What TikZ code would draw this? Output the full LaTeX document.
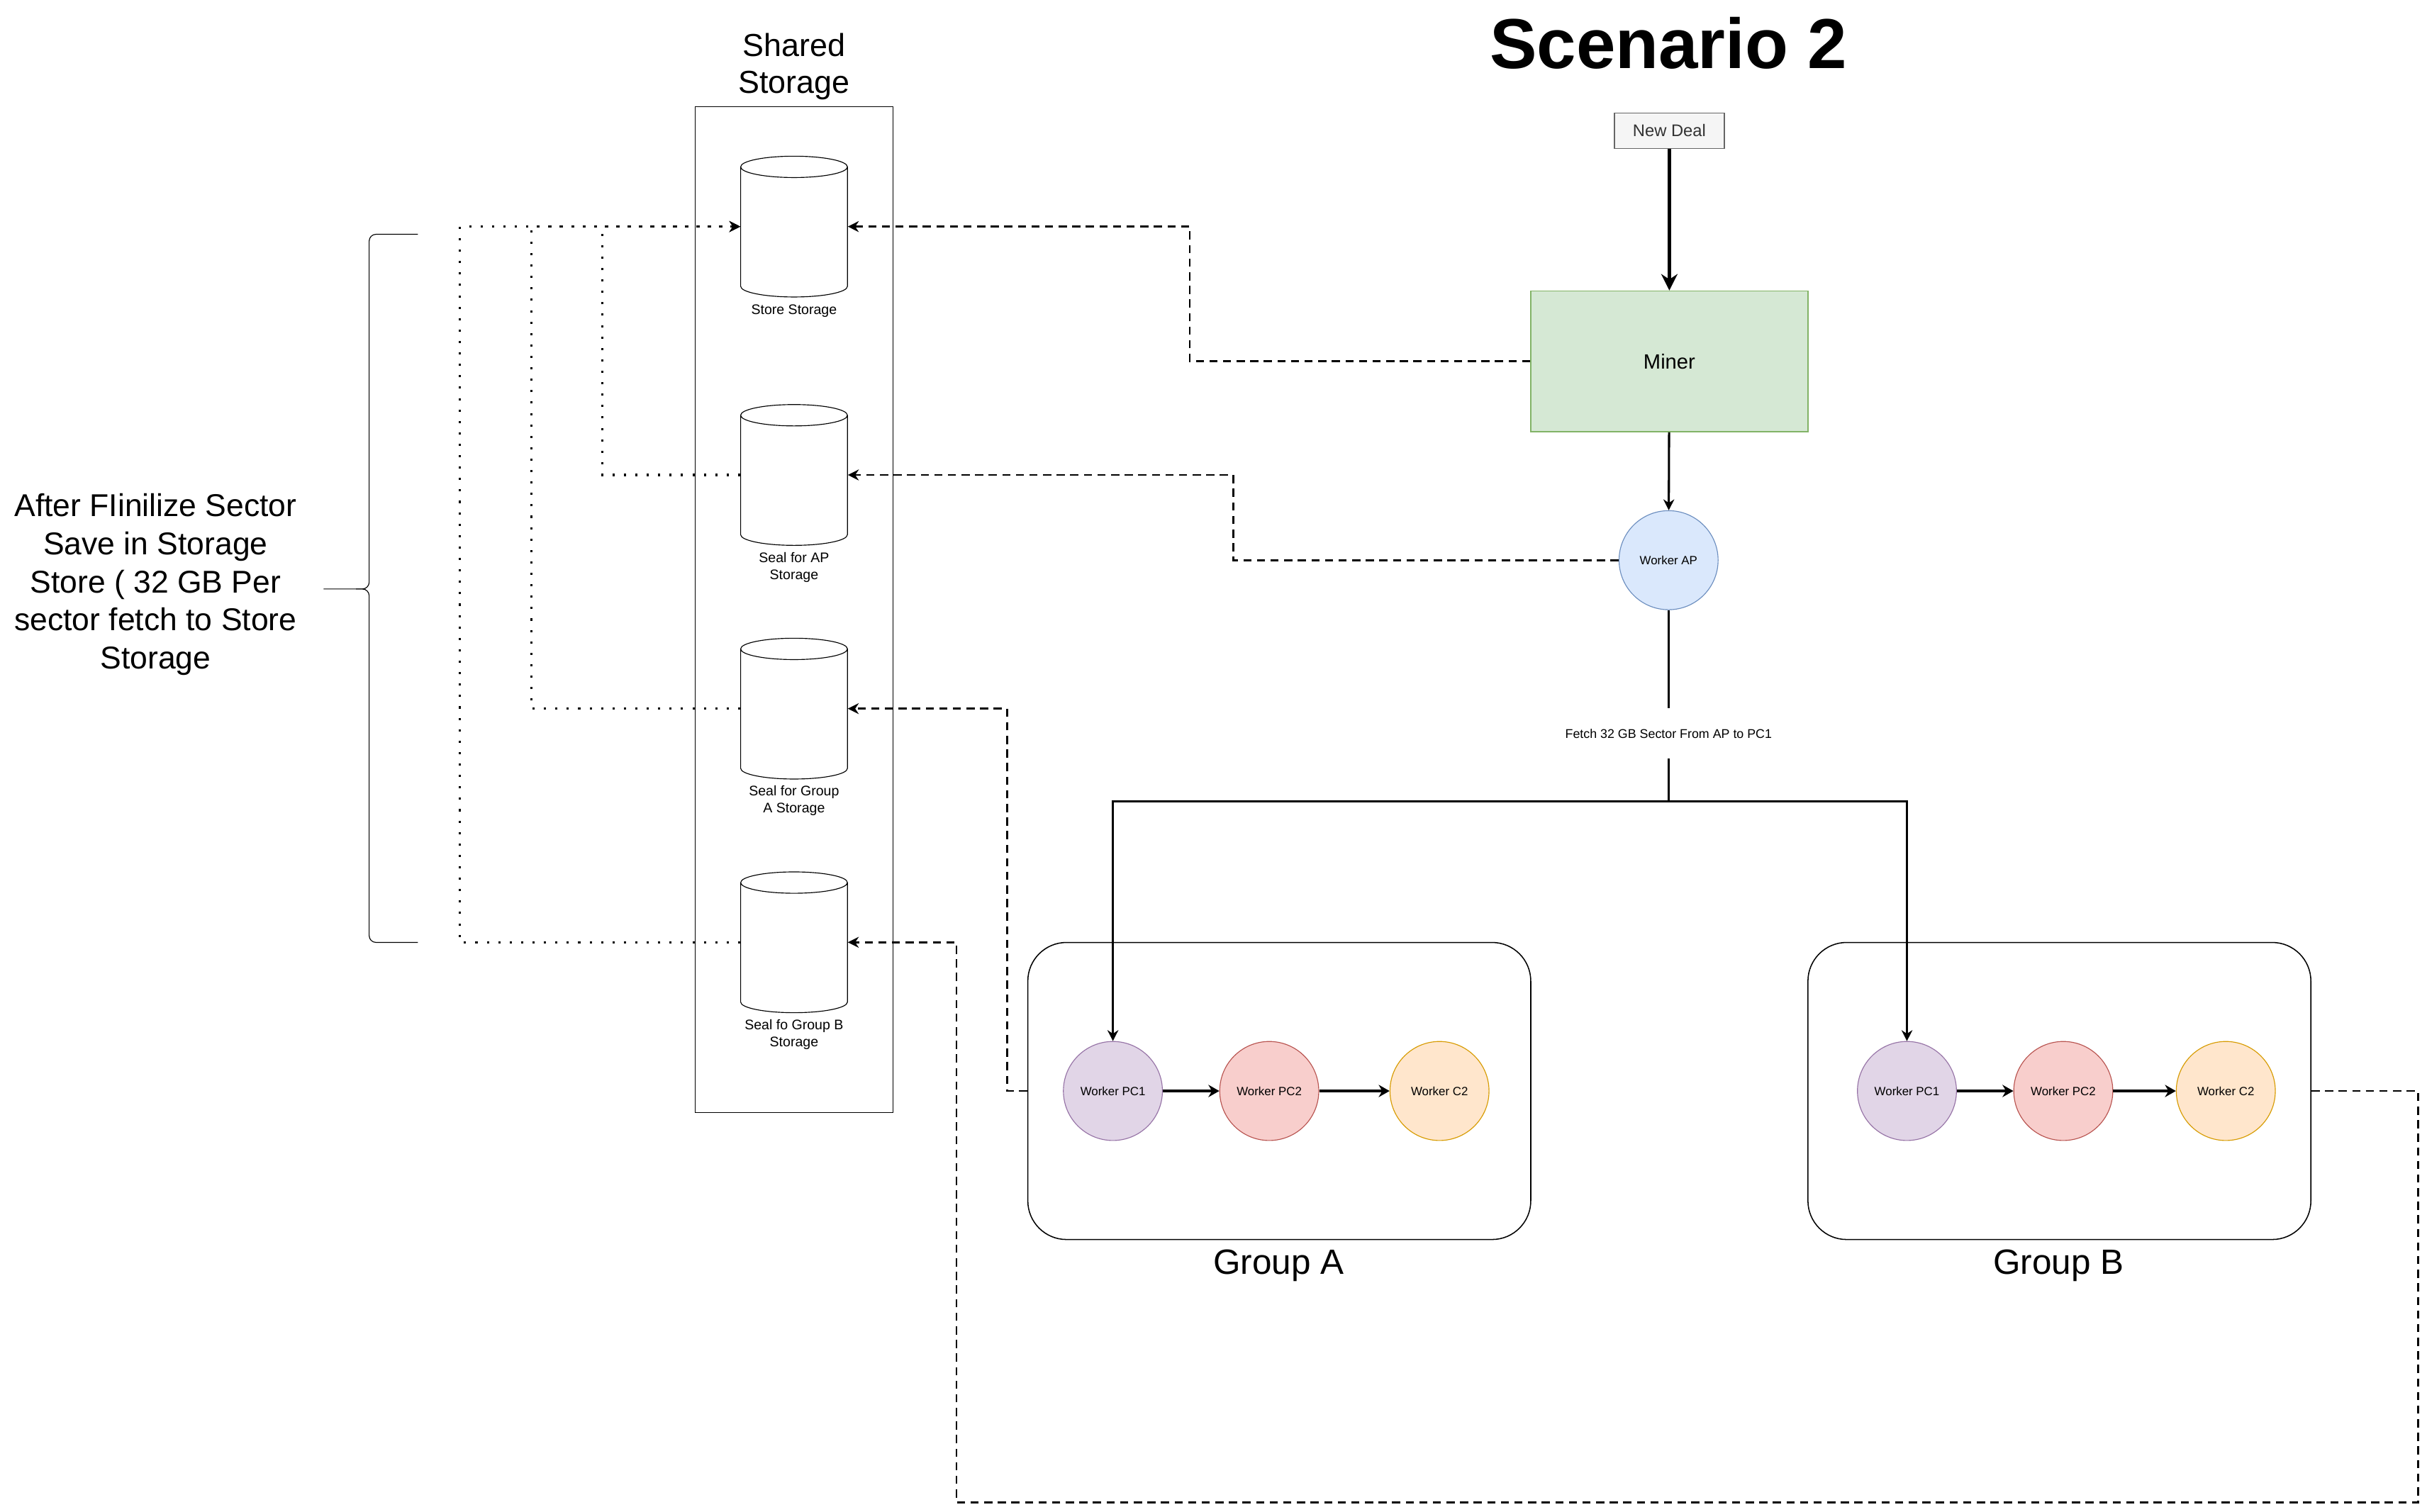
\documentclass[tikz,border=0pt]{standalone}
\usepackage{fontspec}
\setmainfont{Liberation Sans}
\usetikzlibrary{shapes.geometric,arrows.meta}
\definecolor{dealfill}{HTML}{F5F5F5}
\definecolor{dealline}{HTML}{666666}
\definecolor{dealtext}{HTML}{333333}
\definecolor{minerfill}{HTML}{D5E8D4}
\definecolor{minerline}{HTML}{82B366}
\definecolor{apfill}{HTML}{DAE8FC}
\definecolor{apline}{HTML}{6C8EBF}
\definecolor{pconefill}{HTML}{E1D5E7}
\definecolor{pconeline}{HTML}{9673A6}
\definecolor{pctwofill}{HTML}{F8CECC}
\definecolor{pctwoline}{HTML}{B85450}
\definecolor{ctwofill}{HTML}{FFE6CC}
\definecolor{ctwoline}{HTML}{D79B00}

\begin{document}
\begin{tikzpicture}[x=0.02cm,y=-0.02cm,
	store/.style={draw,line width=0.3pt,cylinder,shape border rotate=90,aspect=0.2,minimum width=1.38cm,minimum height=1.82cm,inner sep=0},
	storetext/.style={font=\fontsize{5.1}{6.2}\selectfont,align=center},
	worker/.style={draw,circle,line width=0.3pt,minimum size=1.28cm,inner sep=0,font=\fontsize{4.4}{5.3}\selectfont},
	group/.style={draw,line width=0.4pt,rounded corners=0.5cm,minimum width=6.5cm,minimum height=3.84cm},
	grouptext/.style={font=\fontsize{12.9}{15.5}\selectfont},
	save/.style={line width=0.7pt,dash pattern=on 3pt off 2pt,-{Stealth[length=4pt,width=4pt]}},
	fetchto/.style={line width=0.8pt,dash pattern=on 0.8pt off 3.4pt,-{Stealth[length=4pt,width=4pt]}},
	feed/.style={line width=0.7pt,-{Stealth[length=4pt,width=4pt]}},
	chain/.style={line width=0.9pt,-{Stealth[length=4pt,width=4.5pt]}},
	brace/.style={line width=0.3pt,rounded corners=2.5pt}]
	\useasboundingbox (0,0) rectangle (1568,977);
	\node[font=\bfseries\fontsize{26}{31}\selectfont] (title) at (1078,28) {Scenario 2};
	\node[font=\fontsize{11.7}{13.6}\selectfont,align=center] (shared) at (513,43) {Shared\\Storage};
	\node[draw,line width=0.3pt,minimum width=2.56cm,minimum height=13cm] (box) at (513,394) {};
	\node[store] (s1) at (513,150) {\rule{1.38cm}{0pt}};
	\node[store] (s2) at (513,310.5) {\rule{1.38cm}{0pt}};
	\node[store] (s3) at (513,461.5) {\rule{1.38cm}{0pt}};
	\node[store] (s4) at (513,612.5) {\rule{1.38cm}{0pt}};
	\foreach \s in {s1,s2,s3,s4} {
		\coordinate (\s r) at (\s.shape center -| \s.0);
		\coordinate (\s l) at (\s.shape center -| \s.180);
	}
	\node[storetext] (t1) at (513,201) {Store Storage};
	\node[storetext] (t2) at (513,366.5) {Seal for AP\\Storage};
	\node[storetext] (t3) at (513,517.5) {Seal for Group\\A Storage};
	\node[storetext] (t4) at (513,668.5) {Seal fo Group B\\Storage};
	\node[draw=dealline,fill=dealfill,text=dealtext,line width=0.4pt,minimum width=1.42cm,minimum height=0.46cm,font=\fontsize{6.2}{7.4}\selectfont] (deal) at (1078.5,84.5) {New Deal};
	\node[draw=minerline,fill=minerfill,line width=0.4pt,minimum width=3.58cm,minimum height=1.82cm,font=\fontsize{7.6}{9.1}\selectfont] (miner) at (1078.5,233.5) {Miner};
	\node[worker,fill=apfill,draw=apline] (ap) at (1078,362) {Worker AP};
	\node[font=\fontsize{4.65}{5.6}\selectfont,minimum height=0.64cm,inner sep=0] (fetch) at (1078,474) {Fetch 32 GB Sector From AP to PC1};
	\coordinate (split) at (1078,518);
	\node[group] (ga) at (826.5,705) {};
	\node[group] (gb) at (1330.5,705) {};
	\node[grouptext] (gat) at (826,818) {Group A};
	\node[grouptext] (gbt) at (1330,818) {Group B};
	\node[worker,fill=pconefill,draw=pconeline] (a1) at (719,705) {Worker PC1};
	\node[worker,fill=pctwofill,draw=pctwoline] (a2) at (820,705) {Worker PC2};
	\node[worker,fill=ctwofill,draw=ctwoline] (a3) at (930,705) {Worker C2};
	\node[worker,fill=pconefill,draw=pconeline] (b1) at (1232,705) {Worker PC1};
	\node[worker,fill=pctwofill,draw=pctwoline] (b2) at (1333,705) {Worker PC2};
	\node[worker,fill=ctwofill,draw=ctwoline] (b3) at (1438,705) {Worker C2};
	\node[font=\fontsize{11.6}{14}\selectfont,align=center] (note) at (100.5,377.7) {After FIinilize Sector\\Save in Storage\\Store ( 32 GB Per\\sector fetch to Store\\Storage};
	\draw[brace] (270,151.4) -- (238.5,151.4) -- (238.5,380.6) -- (209,380.6);
	\draw[brace] (270,609) -- (238.5,609) -- (238.5,380.6) -- (230,380.6);
	\draw[line width=1.4pt,-{Stealth[length=6pt,width=6pt]}] (deal) -- (miner);
	\draw[line width=0.8pt,-{Stealth[length=4pt,width=4pt]}] (miner) -- (ap);
	\draw[line width=0.7pt] (ap) -- (fetch);
	\draw[feed] (fetch) -- (split) -| (a1);
	\draw[feed] (split) -| (b1);
	\draw[chain] (a1) -- (a2);
	\draw[chain] (a2) -- (a3);
	\draw[chain] (b1) -- (b2);
	\draw[chain] (b2) -- (b3);
	\draw[save] (miner.west) -- ++(-220,0) |- (s1r);
	\draw[save] (ap.west) -- ++(-249,0) |- (s2r);
	\draw[save] (ga.west) -- ++(-13,0) |- (s3r);
	\coordinate (loop) at (618,971);
	\draw[save] (gb.east) -- ++(69,0) |- (loop) |- (s4r);
	\draw[fetchto] (s2l) -- ++(-89,0) |- (s1l);
	\draw[fetchto] (s3l) -- ++(-135,0) |- (s1l);
	\draw[fetchto] (s4l) -- ++(-181,0) |- (s1l);
\end{tikzpicture}
\end{document}
